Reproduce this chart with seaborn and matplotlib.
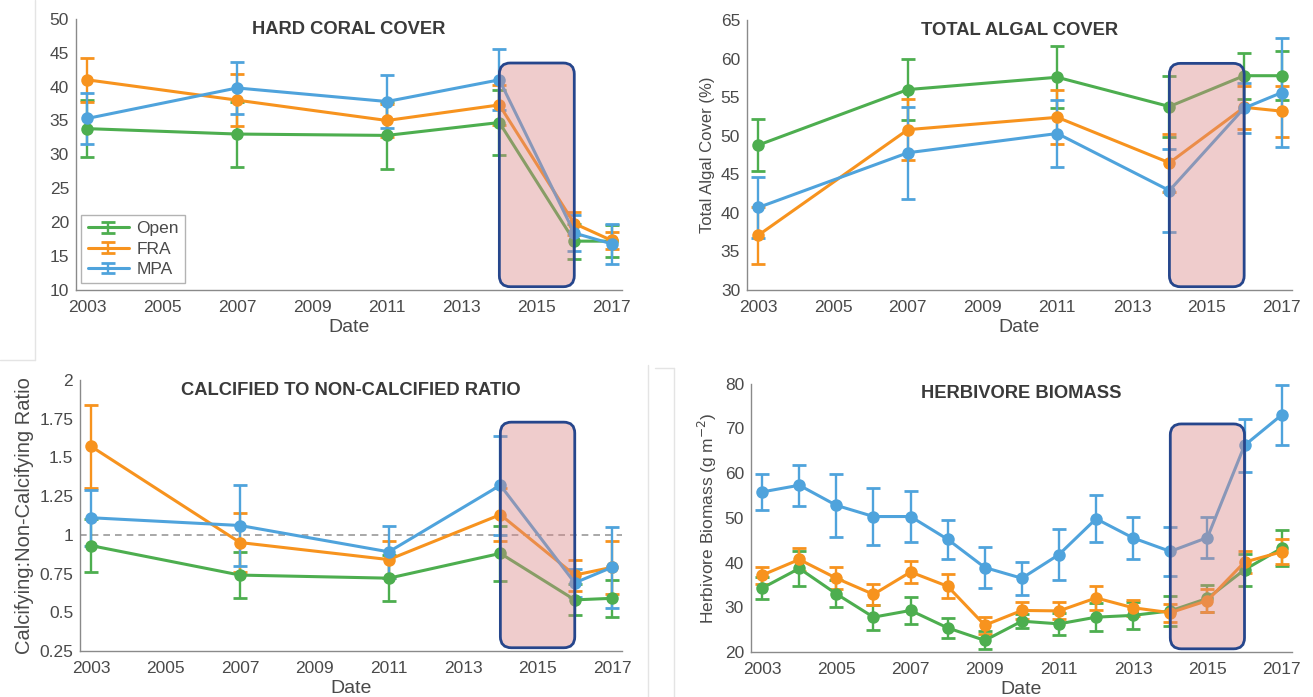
import numpy as np
import pandas as pd
import seaborn as sns
import matplotlib.pyplot as plt
import matplotlib.transforms as mtransforms
from matplotlib.patches import FancyBboxPatch
from matplotlib.lines import Line2D
from matplotlib.container import ErrorbarContainer
from matplotlib.legend_handler import HandlerTuple, HandlerErrorbar
from matplotlib.ticker import MultipleLocator, FormatStrFormatter

# survey years (coral / algae / ratio) and annual years (herbivores)
years_survey = [2003, 2007, 2011, 2014, 2016, 2017]
years_annual = list(range(2003, 2018))

sites = ['Open', 'FRA', 'MPA']
colors = {'Open': '#4dae4f', 'FRA': '#f7931e', 'MPA': '#4fa3dc'}

coral_open = [33.8, 33.0, 32.8, 34.7, 17.2, 17.2]
coral_open_err = [4.2, 4.8, 5.0, 4.8, 2.6, 2.4]
coral_fra = [41.0, 38.0, 35.0, 37.3, 19.8, 17.3]
coral_fra_err = [3.2, 3.8, 2.5, 3.0, 1.7, 1.3]
coral_mpa = [35.3, 39.8, 37.8, 41.0, 18.4, 16.8]
coral_mpa_err = [3.8, 3.8, 3.9, 4.5, 2.6, 3.0]

algae_open = [48.8, 56.0, 57.6, 53.8, 57.8, 57.8]
algae_open_err = [3.4, 4.0, 4.0, 4.0, 3.0, 3.2]
algae_fra = [37.1, 50.8, 52.4, 46.5, 53.7, 53.2]
algae_fra_err = [3.7, 4.0, 3.5, 3.8, 2.8, 3.3]
algae_mpa = [40.7, 47.8, 50.3, 42.9, 53.6, 55.6]
algae_mpa_err = [3.9, 6.0, 4.4, 5.4, 3.2, 7.1]

ratio_open = [0.93, 0.74, 0.72, 0.88, 0.58, 0.59]
ratio_open_err = [0.17, 0.15, 0.15, 0.18, 0.10, 0.12]
ratio_fra = [1.57, 0.95, 0.84, 1.13, 0.74, 0.79]
ratio_fra_err = [0.27, 0.19, 0.12, 0.17, 0.10, 0.17]
ratio_mpa = [1.11, 1.06, 0.89, 1.32, 0.69, 0.79]
ratio_mpa_err = [0.18, 0.26, 0.17, 0.32, 0.09, 0.26]

herb_open = [34.3, 38.7, 33.0, 27.8, 29.3, 25.4, 22.6, 26.9, 26.3, 27.8, 28.2, 29.2, 32.0, 38.4, 43.2]
herb_open_err = [2.4, 4.0, 3.0, 2.8, 3.0, 2.2, 2.0, 1.6, 2.4, 3.2, 3.0, 3.4, 3.1, 3.6, 4.0]
herb_fra = [37.2, 40.7, 36.5, 32.9, 37.9, 34.7, 26.0, 29.3, 29.2, 32.1, 29.9, 28.8, 31.5, 40.1, 42.4]
herb_fra_err = [1.9, 2.6, 2.5, 2.4, 2.5, 2.7, 1.9, 2.0, 1.9, 2.6, 1.8, 2.0, 2.5, 2.4, 2.8]
herb_mpa = [55.8, 57.3, 52.8, 50.3, 50.3, 45.2, 38.9, 36.5, 41.8, 49.8, 45.5, 42.5, 45.6, 66.2, 73.0]
herb_mpa_err = [4.0, 4.6, 7.0, 6.3, 5.8, 4.4, 4.5, 3.7, 5.6, 5.3, 4.7, 5.5, 4.6, 5.9, 6.8]

sns.set_theme(style='white')
plt.rcParams['font.family'] = ['Liberation Sans', 'DejaVu Sans']

fig = plt.figure(figsize=(13.13, 6.97), dpi=100)

TICK_COL = '#4a4a4a'
SPINE_COL = '#8a8a8a'


def draw_panel(pos, years, series, title, ylim, ystep, ylabel=None, ylsize=11,
               yminor=None, rect_top=0.84, legend=False, hline=None):
    ax = fig.add_axes(pos)
    handles = []
    for site in sites:
        vals, errs = series[site]
        df = pd.DataFrame({'year': years, 'value': vals, 'site': site})
        eb = ax.errorbar(years, vals, yerr=errs, fmt='none', ecolor=colors[site],
                         elinewidth=1.7, capsize=5, capthick=2, zorder=2)
        sns.lineplot(data=df, x='year', y='value', color=colors[site], marker='o',
                     markersize=9, markeredgewidth=0, linewidth=2.2, ax=ax,
                     legend=False, zorder=3)
        handles.append((Line2D([], [], color=colors[site], lw=2.2), eb))
    if hline is not None:
        ax.axhline(hline, color='#9a9a9a', lw=1.2, ls=(0, (4, 3)), zorder=1)

    ax.set_xlim(2002.7, 2017.28)
    ax.set_ylim(*ylim)
    ax.xaxis.set_major_locator(MultipleLocator(2, offset=1))
    ax.xaxis.set_minor_locator(MultipleLocator(1))
    ax.yaxis.set_major_locator(MultipleLocator(ystep))
    if yminor:
        ax.yaxis.set_minor_locator(MultipleLocator(yminor))
    ax.yaxis.set_major_formatter(FormatStrFormatter('%g'))
    ax.tick_params(which='both', direction='in', length=5, width=1,
                   color=SPINE_COL, labelcolor=TICK_COL, labelsize=12.5)
    ax.tick_params(axis='x', which='major', pad=7)
    ax.tick_params(axis='y', which='major', pad=5)
    sns.despine(ax=ax)
    for s in ['left', 'bottom']:
        ax.spines[s].set_color(SPINE_COL)
        ax.spines[s].set_linewidth(1)
    ax.set_xlabel('Date', fontsize=14, color=TICK_COL, labelpad=3)
    if ylabel:
        ax.set_ylabel(ylabel, fontsize=ylsize, color=TICK_COL)
    else:
        ax.set_ylabel('')
    ax.text(0.5, 0.962, title, transform=ax.transAxes, ha='center', va='center',
            fontsize=13.2, fontweight='bold', color='#3a3a3a')

    # highlighted bleaching period
    trans = mtransforms.blended_transform_factory(ax.transData, ax.transAxes)
    w_px = pos[2] * fig.get_figwidth() * fig.dpi
    h_px = pos[3] * fig.get_figheight() * fig.dpi
    px_per_year = w_px / (2017.28 - 2002.7)
    rad = 11 / px_per_year
    box = FancyBboxPatch((2014.0, 0.012), 2.0, rect_top - 0.012,
                         boxstyle=f'round,pad=0,rounding_size={rad}',
                         mutation_aspect=(11 / h_px) / rad, transform=trans,
                         facecolor=(0.86, 0.53, 0.53, 0.42), edgecolor='#26468c',
                         linewidth=2, zorder=6)
    ax.add_patch(box)

    if legend:
        leg = ax.legend(handles, sites,
                        handler_map={tuple: HandlerTuple(ndivide=1),
                                     ErrorbarContainer: HandlerErrorbar(xerr_size=0.3, yerr_size=0.3)},
                        loc='lower left', bbox_to_anchor=(0.01, 0.025),
                        borderaxespad=0, fontsize=12.5, frameon=True, fancybox=False,
                        handlelength=2.4, handletextpad=0.4, labelspacing=0.3,
                        borderpad=0.35)
        leg.get_frame().set_edgecolor('#a0a0a0')
        leg.get_frame().set_linewidth(1)
        for t in leg.get_texts():
            t.set_color(TICK_COL)
    return ax


draw_panel([0.0579, 0.584, 0.416, 0.389], years_survey,
           {'Open': (coral_open, coral_open_err), 'FRA': (coral_fra, coral_fra_err),
            'MPA': (coral_mpa, coral_mpa_err)},
           'HARD CORAL COVER', (10, 50), 5, rect_top=0.837, legend=True)

draw_panel([0.569, 0.584, 0.415, 0.387], years_survey,
           {'Open': (algae_open, algae_open_err), 'FRA': (algae_fra, algae_fra_err),
            'MPA': (algae_mpa, algae_mpa_err)},
           'TOTAL ALGAL COVER', (30, 65), 5, ylabel='Total Algal Cover (%)', ylsize=12,
           rect_top=0.84)

draw_panel([0.061, 0.066, 0.413, 0.389], years_survey,
           {'Open': (ratio_open, ratio_open_err), 'FRA': (ratio_fra, ratio_fra_err),
            'MPA': (ratio_mpa, ratio_mpa_err)},
           'CALCIFIED TO NON-CALCIFIED RATIO', (0.25, 2), 0.25,
           ylabel='Calcifying:Non-Calcifying Ratio', ylsize=14.5, rect_top=0.844, hline=1)

draw_panel([0.572, 0.0645, 0.412, 0.385], years_annual,
           {'Open': (herb_open, herb_open_err), 'FRA': (herb_fra, herb_fra_err),
            'MPA': (herb_mpa, herb_mpa_err)},
           'HERBIVORE BIOMASS', (20, 80), 10, ylabel='Herbivore Biomass (g m$^{-2}$)',
           ylsize=12.5, yminor=5, rect_top=0.85)

# faint panel borders from the original composite
for xs, ys in [([0.0267, 0.0267], [1.0, 0.483]), ([0.0, 0.0267], [0.483, 0.483]),
               ([0.4935, 0.4935], [0.476, 0.0]), ([0.513, 0.513], [0.472, 0.0]),
               ([0.499, 0.513], [0.472, 0.472])]:
    fig.add_artist(Line2D(xs, ys, color='#e4e4e4', lw=1, transform=fig.transFigure))

fig.savefig('out.png', dpi=100)
